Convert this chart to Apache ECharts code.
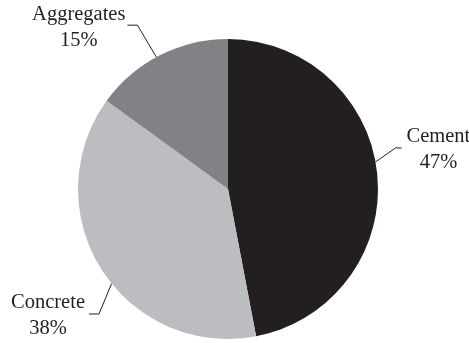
<!DOCTYPE html>
<html>
<head>
<meta charset="utf-8">
<script src="https://cdn.jsdelivr.net/npm/echarts@6/dist/echarts.min.js"></script>
<style>
html,body{margin:0;padding:0;background:#fff;}
#c{width:469px;height:343px;}
</style>
</head>
<body>
<div id="c"></div>
<script>
// Data
const categories = ['Cement', 'Concrete', 'Aggregates'];
const shares = [47, 38, 15];
const sliceColors = ['#231f20', '#bcbdc0', '#808285'];

// Label-line layout (angles clockwise from 12 o'clock, offsets in px)
const anchorAngles = [79.6, 230.9, 331.5];
const bendOffsets = [[20, -14], [-12.6, 30.4], [-19, -32]];
const hLens = [6, 10, 10];
const dirs = [1, -1, -1];
const gaps = [5, 4, 2];
const textDy = 2;

const CX = 228, CY = 189, R = 150;
const FONT = '"Liberation Serif", "Times New Roman", serif';

const chart = echarts.init(document.getElementById('c'), null, {renderer: 'canvas'});
chart.setOption({
  animation: false,
  backgroundColor: '#ffffff',
  textStyle: {fontFamily: FONT},
  series: [{
    type: 'pie',
    center: [CX, CY],
    radius: R,
    startAngle: 90,
    clockwise: true,
    avoidLabelOverlap: false,
    emphasis: {disabled: true},
    itemStyle: {borderWidth: 0},
    label: {
      show: true,
      position: 'outside',
      formatter: '{b}\n{c}%',
      fontFamily: FONT,
      fontWeight: 'normal',
      fontSize: 20.5,
      lineHeight: 26,
      color: '#231f20'
    },
    labelLine: {
      show: true,
      smooth: false,
      lineStyle: {color: '#231f20', width: 1}
    },
    labelLayout: function (params) {
      const i = params.dataIndex;
      const a = anchorAngles[i] * Math.PI / 180;
      const start = [CX + R * Math.sin(a), CY - R * Math.cos(a)];
      const bend = [start[0] + bendOffsets[i][0], start[1] + bendOffsets[i][1]];
      const end = [bend[0] + dirs[i] * hLens[i], bend[1]];
      const w = params.labelRect.width;
      return {
        x: end[0] + dirs[i] * (gaps[i] + w / 2),
        y: end[1] + textDy,
        align: 'center',
        verticalAlign: 'middle',
        labelLinePoints: [start, bend, end]
      };
    },
    data: categories.map((name, i) => ({
      name: name,
      value: shares[i],
      itemStyle: {color: sliceColors[i]}
    }))
  }]
});
</script>
</body>
</html>
